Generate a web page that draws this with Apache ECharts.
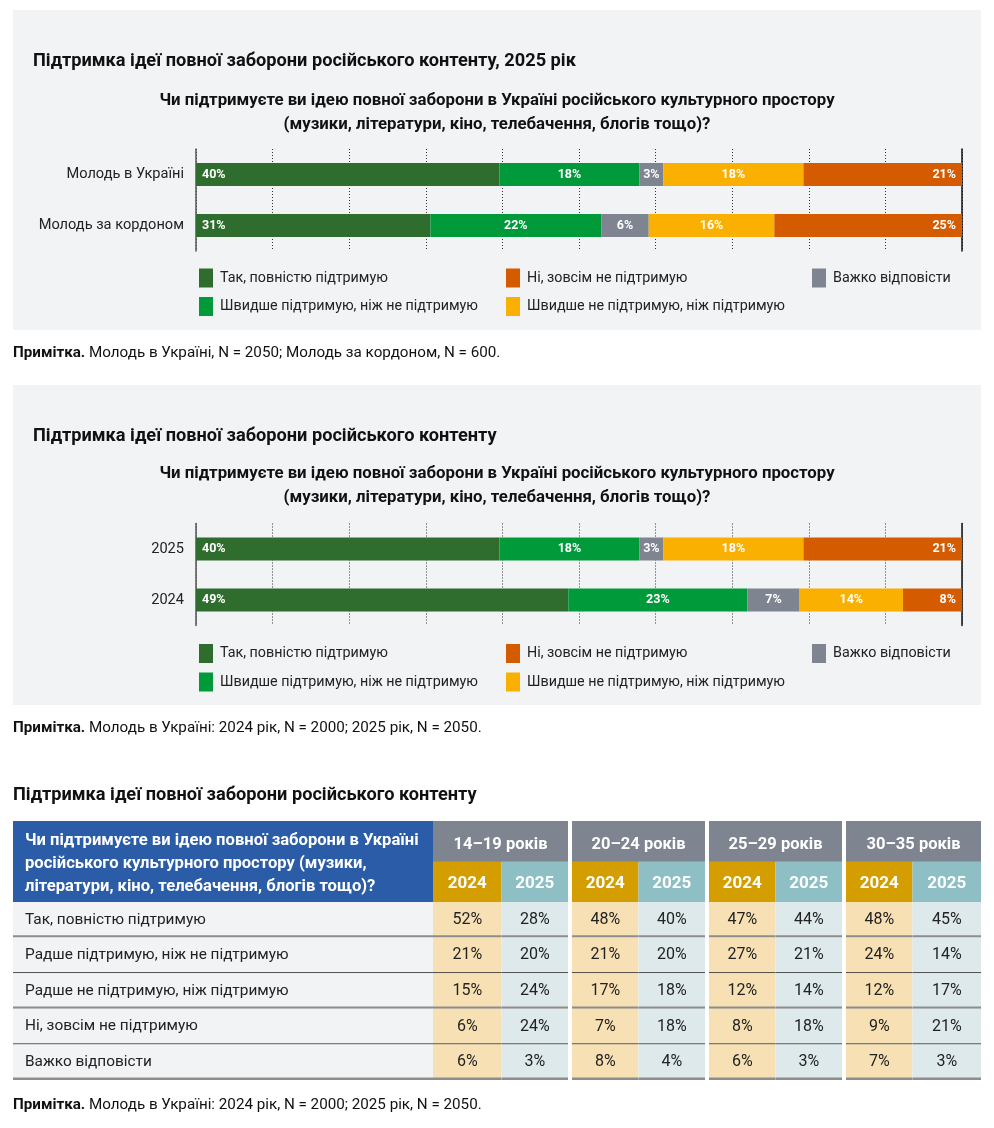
<!DOCTYPE html>
<html><head><meta charset="utf-8">
<script src="https://cdn.jsdelivr.net/npm/echarts@6/dist/echarts.min.js"></script>
<style>html,body{margin:0;padding:0;background:#fff}#c{width:994px;height:1128px}</style>
</head><body><div id="c"></div><script>
const FONT = 'Roboto, "Noto Sans", sans-serif';

// ---- Bar charts data ----
const answerNames = ['Так, повністю підтримую', 'Швидше підтримую, ніж не підтримую', 'Важко відповісти', 'Швидше не підтримую, ніж підтримую', 'Ні, зовсім не підтримую'];
const answerColors = ['#2f6d2e', '#009a3b', '#7e8590', '#f9b000', '#d45b00'];

const chart1Categories = ['Молодь в Україні', 'Молодь за кордоном'];
const c1Fully = [39.6, 30.6];
const c1Rather = [18.3, 22.3];
const c1Hard = [3.1, 6.2];
const c1RatherNot = [18.3, 16.4];
const c1Not = [20.7, 24.5];

const chart2Categories = ['2025', '2024'];
const c2Fully = [39.6, 48.6];
const c2Rather = [18.3, 23.4];
const c2Hard = [3.1, 6.8];
const c2RatherNot = [18.3, 13.5];
const c2Not = [20.7, 7.7];

// ---- Table data ----
const ageGroups = ['14–19 років', '20–24 років', '25–29 років', '30–35 років'];
const years = ['2024', '2025'];
const tableRows = ['Так, повністю підтримую', 'Радше підтримую, ніж не підтримую', 'Радше не підтримую, ніж підтримую', 'Ні, зовсім не підтримую', 'Важко відповісти'];
const t14_19_2024 = [52, 21, 15, 6, 6];
const t14_19_2025 = [28, 20, 24, 24, 3];
const t20_24_2024 = [48, 21, 17, 7, 8];
const t20_24_2025 = [40, 20, 18, 18, 4];
const t25_29_2024 = [47, 27, 12, 8, 6];
const t25_29_2025 = [44, 21, 14, 18, 3];
const t30_35_2024 = [48, 24, 12, 9, 7];
const t30_35_2025 = [45, 14, 17, 21, 3];

const titles = {
  t1: 'Підтримка ідеї повної заборони російського контенту, 2025 рік',
  t2: 'Підтримка ідеї повної заборони російського контенту',
  t3: 'Підтримка ідеї повної заборони російського контенту',
  q: 'Чи підтримуєте ви ідею повної заборони в Україні російського культурного простору\n(музики, літератури, кіно, телебачення, блогів тощо)?',
  qTable: 'Чи підтримуєте ви ідею повної заборони в Україні\nросійського культурного простору (музики,\nлітератури, кіно, телебачення, блогів тощо)?',
  n1: 'Молодь в Україні, N = 2050; Молодь за кордоном, N = 600.',
  n2: 'Молодь в Україні: 2024 рік, N = 2000; 2025 рік, N = 2050.',
  n3: 'Молодь в Україні: 2024 рік, N = 2000; 2025 рік, N = 2050.'
};

const chart = echarts.init(document.getElementById('c'), null, {renderer: 'canvas'});

const c1Data = [c1Fully, c1Rather, c1Hard, c1RatherNot, c1Not];
const c2Data = [c2Fully, c2Rather, c2Hard, c2RatherNot, c2Not];

function barSeries(dataSets, gi) {
  return dataSets.map((d, i) => ({
    type: 'bar', name: answerNames[i], stack: 'st' + gi,
    xAxisIndex: gi, yAxisIndex: gi * 2, barWidth: 23, data: d,
    itemStyle: {color: answerColors[i]},
    label: {
      show: true,
      position: i === 0 ? 'insideLeft' : (i === 4 ? 'insideRight' : 'inside'),
      distance: 6,
      color: '#fff', fontWeight: 'bold', fontSize: 12.5, fontFamily: FONT,
      formatter: p => Math.round(p.value) + '%'
    }
  }));
}

function barXAxis(gi) {
  return {
    type: 'value', gridIndex: gi, min: 0, max: 100, interval: 10,
    axisLabel: {show: false}, axisLine: {show: false}, axisTick: {show: false},
    splitLine: {show: true, lineStyle: {type: [1, 2], color: '#333', width: 1}}
  };
}
function barYAxes(gi, cats) {
  return [{
    type: 'category', gridIndex: gi, data: cats, inverse: true,
    axisLine: {show: true, lineStyle: {color: '#555', width: 1.5}},
    axisTick: {show: false},
    axisLabel: {fontSize: 14.6, color: '#222', margin: 12, fontFamily: FONT}
  }, {
    type: 'category', gridIndex: gi, data: cats, inverse: true, position: 'right',
    axisLine: {show: true, lineStyle: {color: '#111', width: 1.5}},
    axisTick: {show: false}, axisLabel: {show: false}
  }];
}

function legends(topRow1, topRow2) {
  const pos = [[199, topRow1], [199, topRow2], [812, topRow1], [506, topRow2], [506, topRow1]];
  return answerNames.map((n, i) => ({
    data: [n], left: pos[i][0], top: pos[i][1], padding: 0,
    icon: 'rect', itemWidth: 14, itemHeight: 19, selectedMode: false,
    textStyle: {fontSize: 14.3, color: '#222', fontFamily: FONT, padding: [0, 0, 0, 2]}
  }));
}

const tableCols2024 = [t14_19_2024, t20_24_2024, t25_29_2024, t30_35_2024];
const tableCols2025 = [t14_19_2025, t20_24_2025, t25_29_2025, t30_35_2025];
const bodyData = [];
for (let g = 0; g < 4; g++) {
  for (let r = 0; r < 5; r++) {
    bodyData.push([g * 2, r, tableCols2024[g][r]]);
    bodyData.push([g * 2 + 1, r, tableCols2025[g][r]]);
  }
}
const LABEL_W = 420;

function rowLine(row, x0, x1, y1) {
  const thick = row % 2 === 0;
  return {
    type: 'line',
    shape: {x1: x0, y1: thick ? y1 - 1.2 : y1 - 0.5, x2: x1, y2: thick ? y1 - 1.2 : y1 - 0.5},
    style: {stroke: thick ? '#8d8d8d' : '#333', lineWidth: thick ? 2.4 : 1}
  };
}

const titleStyle = {fontSize: 18.2, fontWeight: 'bold', color: '#111', fontFamily: FONT};
const noteRich = {b: {fontWeight: 'bold', fontSize: 15.2, fontFamily: FONT, fill: '#111'}};

const option = {
  animation: false,
  backgroundColor: '#fff',
  title: [
    {text: titles.t1, left: 33, top: 52, padding: 0, textStyle: titleStyle},
    {text: titles.t2, left: 33, top: 427, padding: 0, textStyle: titleStyle},
    {text: titles.t3, left: 13, top: 786, padding: 0, textStyle: titleStyle}
  ],
  legend: [...legends(268.5, 297), ...legends(644, 672.5)],
  grid: [
    {left: 196, width: 766, top: 149, height: 102},
    {left: 196, width: 766, top: 523.5, height: 102},
    {left: 433, right: 13, top: 902, height: 178},
    {left: 433, right: 13, top: 821, height: 81}
  ],
  xAxis: [
    barXAxis(0), barXAxis(1),
    {type: 'category', gridIndex: 2, data: [0, 1, 2, 3, 4, 5, 6, 7], show: false},
    {type: 'category', gridIndex: 3, data: [0, 1, 2, 3, 4, 5, 6, 7], show: false}
  ],
  yAxis: [
    ...barYAxes(0, chart1Categories),
    ...barYAxes(1, chart2Categories),
    {type: 'category', gridIndex: 2, data: tableRows, inverse: true, z: 10,
      axisLine: {show: false}, axisTick: {show: false},
      axisLabel: {align: 'left', margin: 408, fontSize: 15.4, color: '#222', fontFamily: FONT}},
    {type: 'category', gridIndex: 3, data: ['group', 'year'], inverse: true, show: false}
  ],
  graphic: [
    {type: 'rect', z: -10, shape: {x: 13, y: 10, width: 968, height: 320}, style: {fill: '#f2f3f5'}},
    {type: 'rect', z: -10, shape: {x: 13, y: 385, width: 968, height: 320}, style: {fill: '#f2f3f5'}},
    {type: 'text', x: 497, y: 113, style: {text: titles.q, textAlign: 'center', textVerticalAlign: 'middle', fill: '#111',
      font: 'bold 16.8px ' + FONT, lineHeight: 24}},
    {type: 'text', x: 497, y: 486, style: {text: titles.q, textAlign: 'center', textVerticalAlign: 'middle', fill: '#111',
      font: 'bold 16.8px ' + FONT, lineHeight: 24}},
    {type: 'text', x: 13, y: 353, style: {text: '{b|Примітка.} ' + titles.n1, textVerticalAlign: 'middle', font: '15.2px ' + FONT, fill: '#111', rich: noteRich}},
    {type: 'text', x: 13, y: 728, style: {text: '{b|Примітка.} ' + titles.n2, textVerticalAlign: 'middle', font: '15.2px ' + FONT, fill: '#111', rich: noteRich}},
    {type: 'text', x: 13, y: 1105, style: {text: '{b|Примітка.} ' + titles.n3, textVerticalAlign: 'middle', font: '15.2px ' + FONT, fill: '#111', rich: noteRich}},
    {type: 'rect', z: 5, shape: {x: 13, y: 821, width: 420, height: 81}, style: {fill: '#2a5ca8'}},
    {type: 'text', z: 6, x: 25, y: 864, style: {text: titles.qTable, textVerticalAlign: 'middle', fill: '#fff',
      font: 'bold 16.6px ' + FONT, lineHeight: 23}}
  ],
  series: [
    ...barSeries(c1Data, 0),
    ...barSeries(c2Data, 1),
    // row label backgrounds + lines
    {
      type: 'custom', xAxisIndex: 2, yAxisIndex: 4, z: 1, silent: true,
      data: tableRows.map((_, r) => [0, r]),
      renderItem: (params, api) => {
        const row = api.value(1);
        const c = api.coord([0, row]);
        const s = api.size([1, 1]);
        const cs = params.coordSys;
        const x0 = cs.x - LABEL_W, x1 = cs.x;
        const y0 = c[1] - s[1] / 2, y1 = c[1] + s[1] / 2;
        return {type: 'group', children: [
          {type: 'rect', shape: {x: x0, y: y0, width: x1 - x0, height: y1 - y0}, style: {fill: '#f2f3f4'}},
          rowLine(row, x0, x1, y1)
        ]};
      }
    },
    // value cells
    {
      type: 'custom', xAxisIndex: 2, yAxisIndex: 4, z: 2, silent: true,
      data: bodyData,
      renderItem: (params, api) => {
        const col = api.value(0), row = api.value(1), val = api.value(2);
        const c = api.coord([col, row]);
        const s = api.size([1, 1]);
        let x0 = c[0] - s[0] / 2, x1 = c[0] + s[0] / 2;
        if (col % 2 === 0 && col > 0) x0 += 2;
        if (col % 2 === 1 && col < 7) x1 -= 2;
        const y0 = c[1] - s[1] / 2, y1 = c[1] + s[1] / 2;
        return {type: 'group', children: [
          {type: 'rect', shape: {x: x0, y: y0, width: x1 - x0, height: y1 - y0}, style: {fill: col % 2 === 0 ? '#f7e1b4' : '#dde9eb'}},
          {type: 'text', style: {text: val + '%', x: (x0 + x1) / 2, y: c[1], textAlign: 'center', textVerticalAlign: 'middle',
            font: '16px ' + FONT, fill: '#222'}},
          rowLine(row, x0, x1, y1)
        ]};
      }
    },
    // header: age groups
    {
      type: 'custom', xAxisIndex: 3, yAxisIndex: 5, z: 2, silent: true,
      data: ageGroups.map((_, g) => [g * 2, 0]),
      renderItem: (params, api) => {
        const col = api.value(0);
        const c = api.coord([col, 0]);
        const s = api.size([1, 1]);
        let x0 = c[0] - s[0] / 2, x1 = c[0] + s[0] * 1.5;
        if (col > 0) x0 += 2;
        if (col < 6) x1 -= 2;
        const y0 = c[1] - s[1] / 2;
        return {type: 'group', children: [
          {type: 'rect', shape: {x: x0, y: y0, width: x1 - x0, height: s[1] + 0.5}, style: {fill: '#7e8590'}},
          {type: 'text', style: {text: ageGroups[params.dataIndex], x: (x0 + x1) / 2, y: c[1] + 4, textAlign: 'center', textVerticalAlign: 'middle',
            font: 'bold 16.5px ' + FONT, fill: '#fff'}}
        ]};
      }
    },
    // header: years
    {
      type: 'custom', xAxisIndex: 3, yAxisIndex: 5, z: 2, silent: true,
      data: [0, 1, 2, 3, 4, 5, 6, 7].map(col => [col, 1]),
      renderItem: (params, api) => {
        const col = api.value(0);
        const c = api.coord([col, 1]);
        const s = api.size([1, 1]);
        let x0 = c[0] - s[0] / 2, x1 = c[0] + s[0] / 2;
        if (col % 2 === 0 && col > 0) x0 += 2;
        if (col % 2 === 1 && col < 7) x1 -= 2;
        const y0 = c[1] - s[1] / 2;
        return {type: 'group', children: [
          {type: 'rect', shape: {x: x0, y: y0, width: x1 - x0, height: s[1]}, style: {fill: col % 2 === 0 ? '#d59e00' : '#8dbfc4'}},
          {type: 'text', style: {text: years[col % 2], x: (x0 + x1) / 2, y: c[1] + 2, textAlign: 'center', textVerticalAlign: 'middle',
            font: 'bold 17px ' + FONT, fill: '#fff'}}
        ]};
      }
    }
  ]
};
chart.setOption(option);
</script></body></html>
